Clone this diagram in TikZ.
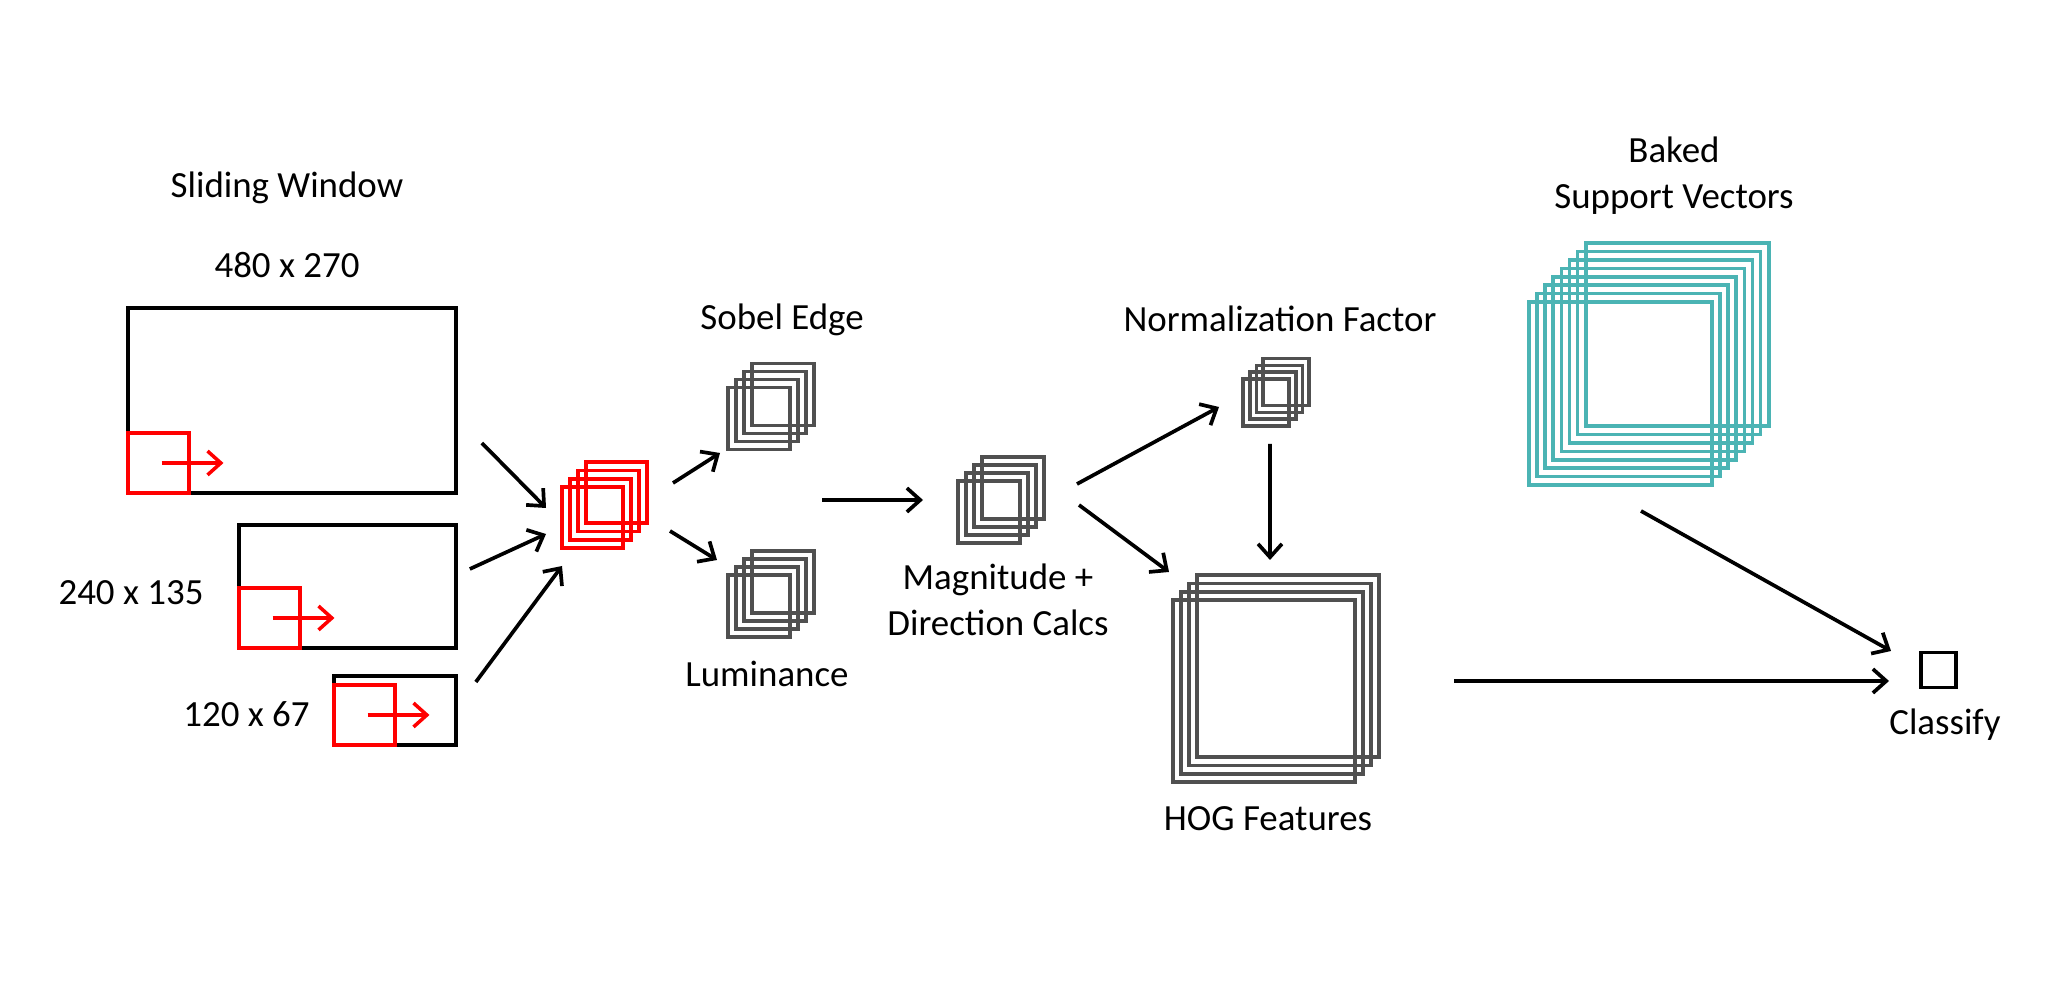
\documentclass[tikz,border=0pt]{standalone}
\usepackage{fontspec}
\setmainfont{Carlito}
\usepackage{tikz}
\usetikzlibrary{arrows.meta,calc,positioning}
\usepackage{xcolor}
\definecolor{hgray}{RGB}{80,80,80}
\definecolor{hred}{RGB}{255,0,0}
\definecolor{hteal}{RGB}{75,180,180}
\tikzstyle{arrow} = [line width=1.05pt,-{Straight Barb[length=3.8pt,width=6.8pt]},color=black]
\tikzstyle{redarrow} = [line width=1pt,-{Straight Barb[length=3.8pt,width=6.8pt]},color=hred]
\tikzstyle{frame} = [rectangle, draw=black, line width=1.05pt, inner sep=0pt]
\tikzstyle{window} = [rectangle, draw=hred, line width=1.05pt, inner sep=0pt, minimum width=0.61cm, minimum height=0.60cm, anchor=south west]
\tikzstyle{layer} = [rectangle, draw=hgray, line width=1.05pt, inner sep=0pt, minimum size=0.62cm]
\tikzstyle{redlayer} = [layer, draw=hred, minimum size=0.61cm]
\tikzstyle{svlayer} = [layer, draw=hteal, minimum size=1.83cm]
\tikzstyle{lbl} = [font=\fontsize{10.5}{13}\selectfont, align=center]

\begin{document}
\begin{tikzpicture}
    \useasboundingbox (0,0) rectangle (20.55,-10);

    % Sliding windows
    \node[lbl] (title) at (2.87,-1.88) {Sliding Window};
    \node[frame, minimum width=3.28cm, minimum height=1.85cm] (win480) at (2.92,-4.005) {};
    \node[frame, minimum width=2.17cm, minimum height=1.23cm] (win240) at (3.475,-5.865) {};
    \node[frame, minimum width=1.22cm, minimum height=0.69cm] (win120) at (3.95,-7.105) {};
    \node[lbl] (lbl480) at (2.87,-2.65) {480 x 270};
    \node[lbl] (lbl240) at (1.31,-5.93) {240 x 135};
    \node[lbl] (lbl120) at (2.465,-7.14) {120 x 67};

    \node[window] (slide480) at (win480.south west) {};
    \node[window] (slide240) at (win240.south west) {};
    \node[window] (slide120) at (win120.south west) {};
    \draw[redarrow] ($(slide480.center)+(0.03,0)$) -- ++(0.62,0);
    \draw[redarrow] ($(slide240.center)+(0.03,0)$) -- ++(0.62,0);
    \draw[redarrow] ($(slide120.center)+(0.03,0)$) -- ++(0.62,0);

    % Window stack
    \node[redlayer] (crop) at (5.925,-5.175) {};
    \foreach \k in {1,2,3}
        \node[redlayer] at ($(crop)+(\k*0.08,\k*0.083)$) {};

    % Sobel / luminance
    \node[layer] (sobel) at (7.59,-4.185) {};
    \node[layer] (lum) at (7.59,-6.06) {};
    \foreach \k in {1,2,3} {
        \node[layer] at ($(sobel)+(\k*0.08,\k*0.08)$) {};
        \node[layer] at ($(lum)+(\k*0.08,\k*0.08)$) {};
    }
    \node[lbl] (sobeltxt) at (7.82,-3.20) {Sobel Edge};
    \node[lbl] (lumtxt) at (7.67,-6.74) {Luminance};

    % Magnitude + direction
    \node[layer] (mag) at (9.89,-5.12) {};
    \foreach \k in {1,2,3}
        \node[layer] at ($(mag)+(\k*0.08,\k*0.08)$) {};
    \node[lbl] (magtxt) at (9.98,-6.00) {Magnitude +\\Direction Calcs};

    % Normalization
    \node[layer, minimum width=0.46cm, minimum height=0.47cm] (norm) at (12.66,-4.025) {};
    \foreach \k in {1,2,3}
        \node[layer, minimum width=0.46cm, minimum height=0.47cm] at ($(norm)+(\k*0.067,\k*0.068)$) {};
    \node[lbl] (normtxt) at (12.80,-3.19) {Normalization Factor};

    % HOG
    \node[layer, minimum size=1.82cm] (hog) at (12.64,-6.91) {};
    \foreach \k in {1,2,3}
        \node[layer, minimum size=1.82cm] at ($(hog)+(\k*0.08,\k*0.083)$) {};
    \node[lbl] (hogtxt) at (12.68,-8.19) {HOG Features};

    % Support vectors
    \node[svlayer] (svec) at (16.205,-3.935) {};
    \foreach \k in {1,...,7}
        \node[svlayer] at ($(svec)+(\k*0.081,\k*0.084)$) {};
    \node[lbl] (svtxt) at (16.74,-1.76) {Baked\\Support Vectors};

    % Classify
    \node[frame, minimum size=0.35cm] (cls) at (19.385,-6.70) {};
    \node[lbl] (clstxt) at (19.45,-7.25) {Classify};

    % Arrows
    \draw[arrow] ($(win480.east)+(0.24,-0.425)$) -- ($(crop)+(-0.465,0.095)$);
    \draw[arrow] ($(win240.east)+(0.12,0.175)$) -- ($(crop)+(-0.465,-0.165)$);
    \draw[arrow] ($(win120.east)+(0.18,0.285)$) -- ($(crop)+(-0.305,-0.485)$);
    \draw[arrow] ($(crop)+(0.805,0.345)$) -- ($(sobel)+(-0.39,-0.345)$);
    \draw[arrow] ($(crop)+(0.775,-0.135)$) -- ($(lum)+(-0.42,0.46)$);
    \draw[arrow] ($(mag)+(-1.67,0.12)$) -- ($(mag)+(-0.66,0.12)$);
    \draw[arrow] ($(mag)+(0.88,0.28)$) -- ($(norm)+(-0.47,-0.045)$);
    \draw[arrow] ($(mag)+(0.90,0.07)$) -- ($(hog)+(-0.95,1.19)$);
    \draw[arrow] ($(norm)+(0.04,-0.415)$) -- ($(hog)+(0.06,1.31)$);
    \draw[arrow] ($(svec)+(0.205,-1.175)$) -- ($(cls)+(-0.475,0.19)$);
    \draw[arrow] ($(hog)+(1.90,0.10)$) -- ($(cls)+(-0.495,-0.11)$);
\end{tikzpicture}
\end{document}
